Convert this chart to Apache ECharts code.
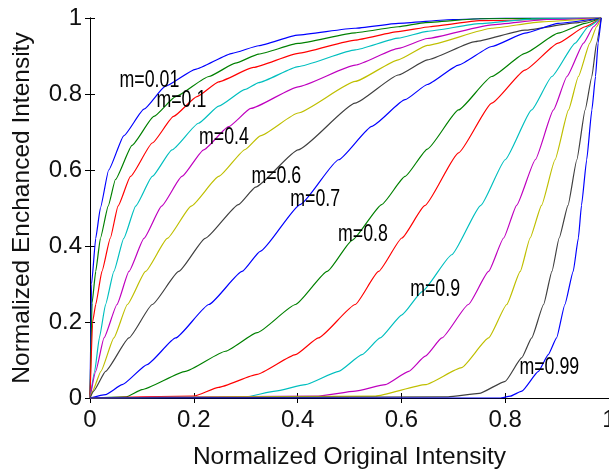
<!DOCTYPE html>
<html>
<head>
<meta charset="utf-8">
<script src="https://cdn.jsdelivr.net/npm/echarts@6/dist/echarts.min.js"></script>
<style>
html,body{margin:0;padding:0;background:#fff;}
#chart{width:609px;height:471px;}
</style>
</head>
<body>
<div id="chart"></div>
<script>
// ---- data (x = normalized original, y = normalized enhanced) ----
const curve01 = [[0,0],[0.003,0.3],[0.011,0.42],[0.02,0.5],[0.036,0.6],[0.065,0.69],[0.104,0.76],[0.145,0.82],[0.203,0.865],[0.274,0.907],[0.325,0.927],[0.4,0.955],[0.51,0.973],[0.594,0.986],[0.7,0.996],[0.8,1],[0.985,1]];
const curve02 = [[0,0],[0.004,0.25],[0.011,0.333],[0.02,0.42],[0.035,0.505],[0.049,0.575],[0.081,0.665],[0.123,0.741],[0.165,0.793],[0.229,0.846],[0.28,0.881],[0.325,0.905],[0.401,0.933],[0.511,0.961],[0.594,0.977],[0.646,0.988],[0.75,0.998],[0.985,1]];
const curve03 = [[0,0],[0.005,0.2],[0.011,0.246],[0.023,0.333],[0.039,0.42],[0.054,0.505],[0.078,0.583],[0.12,0.671],[0.161,0.741],[0.206,0.793],[0.248,0.832],[0.315,0.87],[0.401,0.907],[0.511,0.942],[0.594,0.964],[0.655,0.977],[0.75,0.993],[0.985,1]];
const curve04 = [[0,0],[0.009,0.07],[0.018,0.158],[0.03,0.246],[0.046,0.333],[0.065,0.42],[0.088,0.505],[0.12,0.583],[0.158,0.653],[0.209,0.723],[0.248,0.768],[0.299,0.812],[0.325,0.83],[0.401,0.872],[0.511,0.916],[0.594,0.947],[0.65,0.965],[0.75,0.985],[0.85,0.997],[0.985,1]];
const curve05 = [[0,0],[0.011,0.07],[0.027,0.158],[0.052,0.246],[0.075,0.333],[0.104,0.42],[0.138,0.505],[0.177,0.583],[0.219,0.653],[0.267,0.714],[0.31,0.762],[0.401,0.819],[0.511,0.876],[0.594,0.92],[0.65,0.946],[0.774,0.982],[0.88,0.996],[0.985,1]];
const curve06 = [[0,0],[0.005,0.018],[0.021,0.07],[0.046,0.158],[0.072,0.246],[0.107,0.333],[0.149,0.42],[0.195,0.505],[0.248,0.583],[0.299,0.654],[0.328,0.69],[0.401,0.75],[0.511,0.833],[0.594,0.89],[0.65,0.928],[0.774,0.973],[0.87,0.99],[0.985,1]];
const curve07 = [[0,0],[0.007,0.018],[0.03,0.07],[0.075,0.158],[0.12,0.246],[0.171,0.333],[0.222,0.42],[0.286,0.509],[0.319,0.555],[0.401,0.653],[0.511,0.776],[0.594,0.85],[0.65,0.89],[0.742,0.938],[0.838,0.968],[0.935,0.987],[0.985,1]];
const curve08 = [[0,0],[0.03,0.009],[0.062,0.035],[0.11,0.088],[0.165,0.158],[0.229,0.246],[0.293,0.333],[0.328,0.386],[0.405,0.509],[0.479,0.627],[0.543,0.715],[0.607,0.785],[0.65,0.825],[0.71,0.876],[0.774,0.925],[0.838,0.96],[0.902,0.986],[0.985,1]];
const curve09 = [[0,0],[0.07,0.003],[0.1,0.022],[0.184,0.07],[0.261,0.123],[0.322,0.172],[0.396,0.246],[0.457,0.333],[0.505,0.415],[0.562,0.509],[0.607,0.583],[0.65,0.655],[0.71,0.758],[0.774,0.846],[0.838,0.907],[0.902,0.96],[0.954,0.986],[0.985,1]];
const curve10 = [[0,0],[0.2,0.005],[0.248,0.028],[0.322,0.062],[0.396,0.114],[0.44,0.158],[0.511,0.246],[0.556,0.333],[0.601,0.421],[0.645,0.506],[0.71,0.645],[0.774,0.776],[0.838,0.863],[0.902,0.934],[0.954,0.977],[0.985,1]];
const curve11 = [[0,0],[0.3,0.003],[0.357,0.018],[0.415,0.035],[0.479,0.07],[0.524,0.114],[0.559,0.158],[0.601,0.219],[0.64,0.28],[0.697,0.377],[0.753,0.507],[0.8,0.627],[0.851,0.758],[0.89,0.846],[0.935,0.934],[0.96,0.977],[0.985,1]];
const curve12 = [[0,0],[0.44,0.005],[0.511,0.018],[0.569,0.035],[0.614,0.07],[0.646,0.11],[0.678,0.158],[0.729,0.246],[0.768,0.333],[0.797,0.421],[0.822,0.507],[0.858,0.627],[0.893,0.758],[0.919,0.846],[0.951,0.934],[0.97,0.977],[0.985,1]];
const curve13 = [[0,0],[0.55,0.005],[0.646,0.035],[0.716,0.08],[0.768,0.158],[0.803,0.246],[0.829,0.333],[0.848,0.421],[0.87,0.507],[0.896,0.627],[0.922,0.758],[0.941,0.846],[0.963,0.934],[0.976,0.977],[0.985,1]];
const curve14 = [[0,0],[0.69,0.003],[0.75,0.012],[0.8,0.044],[0.832,0.106],[0.851,0.158],[0.874,0.246],[0.89,0.333],[0.904,0.421],[0.921,0.507],[0.938,0.627],[0.954,0.758],[0.967,0.846],[0.976,0.934],[0.985,1]];
const curve15 = [[0,0],[0.79,0],[0.81,0.005],[0.832,0.018],[0.864,0.07],[0.883,0.114],[0.899,0.158],[0.915,0.246],[0.931,0.333],[0.941,0.421],[0.947,0.507],[0.957,0.627],[0.967,0.758],[0.974,0.846],[0.979,0.934],[0.985,1]];

const curves = [curve01,curve02,curve03,curve04,curve05,curve06,curve07,curve08,curve09,curve10,curve11,curve12,curve13,curve14,curve15];
const colors = ['#0000ff','#008000','#ff0000','#00bfbf','#bf00bf','#bfbf00','#404040'];

// annotation labels and their positions in data coordinates
const labelTexts = ['m=0.01','m=0.1','m=0.4','m=0.6','m=0.7','m=0.8','m=0.9','m=0.99'];
const labelX = [0.1145,0.176,0.258,0.359,0.434,0.526,0.665,0.885];
const labelY = [0.837,0.784,0.685,0.582,0.522,0.43,0.285,0.08];

const FONT = '"Liberation Sans", Arial, Helvetica, sans-serif';

const chart = echarts.init(document.getElementById('chart'), null, {renderer:'canvas'});

const series = curves.map((c, i) => ({
  type: 'line',
  data: c,
  xAxisIndex: 0, yAxisIndex: 0,
  showSymbol: false,
  symbol: 'none',
  smooth: 0.15,
  smoothMonotone: 'x',
  animation: false,
  lineStyle: {color: colors[i % colors.length], width: 1.2},
  itemStyle: {color: colors[i % colors.length]},
  clip: true
}));

const axisCommon = {
  type: 'value', min: 0, max: 1, interval: 0.2,
  splitLine: {show: false},
  axisLine: {show: true, lineStyle: {color: '#000', width: 1}},
  axisTick: {show: true, inside: true, length: 5, lineStyle: {color: '#000'}}
};

chart.setOption({
  backgroundColor: '#fff',
  animation: false,
  grid: {left: 90, right: 0, top: 18, bottom: 73, containLabel: false, outerBoundsMode: 'none'},
  xAxis: [
    Object.assign({}, axisCommon, {
      position: 'bottom',
      name: 'Normalized Original Intensity',
      nameLocation: 'middle',
      nameGap: 47,
      nameTextStyle: {fontSize: 24.5, fontFamily: FONT, color: '#111'},
      axisLabel: {show: true, fontSize: 24, fontFamily: FONT, color: '#111', margin: 10,
        formatter: v => String(+v.toFixed(1))}
    }),
    Object.assign({}, axisCommon, {position: 'top', axisLabel: {show: false}})
  ],
  yAxis: [
    Object.assign({}, axisCommon, {
      position: 'left',
      name: 'Normalized Enchanced Intensity',
      nameLocation: 'middle',
      nameGap: 55,
      nameRotate: 90,
      nameTextStyle: {fontSize: 24.5, fontFamily: FONT, color: '#111'},
      axisLabel: {show: true, fontSize: 24, fontFamily: FONT, color: '#111', margin: 8,
        formatter: v => String(+v.toFixed(1))}
    }),
    Object.assign({}, axisCommon, {position: 'right', axisLabel: {show: false}})
  ],
  series: series
});

// annotation texts placed through the chart's own coordinate conversion
const graphics = labelTexts.map((t, i) => {
  const p = chart.convertToPixel({gridIndex: 0}, [labelX[i], labelY[i]]);
  return {
    type: 'text',
    x: p[0], y: p[1],
    scaleX: 0.74,
    z: 100,
    style: {
      text: t,
      fontSize: 24,
      fontFamily: FONT,
      fill: '#000',
      align: 'center', verticalAlign: 'middle',
      textAlign: 'center', textVerticalAlign: 'middle'
    }
  };
});
chart.setOption({graphic: graphics});
</script>
</body>
</html>
